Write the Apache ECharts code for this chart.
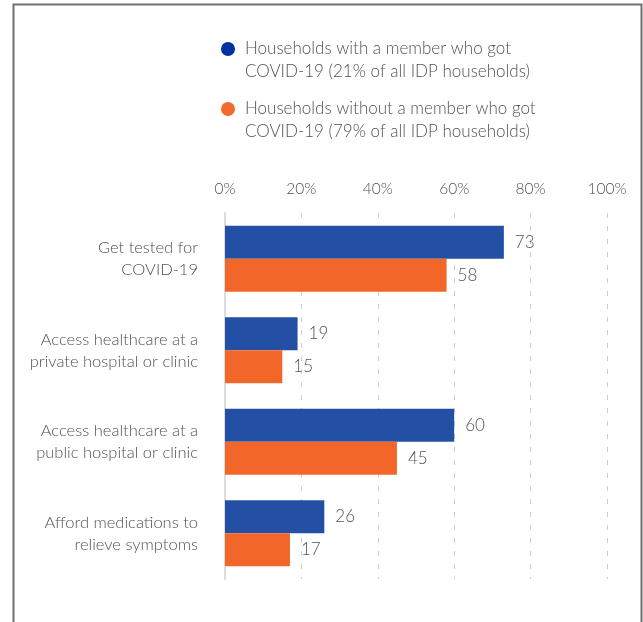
<!DOCTYPE html>
<html><head><meta charset="utf-8">
<script src="https://cdn.jsdelivr.net/npm/echarts@6/dist/echarts.min.js"></script>
<style>html,body{margin:0;padding:0;background:#fff}#c{width:643px;height:622px}</style>
</head><body><div id="c"></div>
<script>
const categories = ["Get tested for\nCOVID-19", "Access healthcare at a\nprivate hospital or clinic", "Access healthcare at a\npublic hospital or clinic", "Afford medications to\nrelieve symptoms"];
const withCovid = [73, 19, 60, 26];
const withoutCovid = [58, 15, 45, 17];
const seriesNames = ["Households with a member who got\nCOVID-19 (21% of all IDP households)", "Households without a member who got\nCOVID-19 (79% of all IDP households)"];
const FONT = 'Lato';
const TXT = '#525252';
const chart = echarts.init(document.getElementById('c'));
chart.setOption({
  animation: false,
  textStyle: {fontFamily: FONT},
  graphic: [{
    type: 'polyline',
    shape: {points: [[13.5, 622], [13.5, 4.5], [641.5, 4.5], [641.5, 622]]},
    style: {stroke: '#707070', lineWidth: 2, fill: null},
    silent: true
  }],
  legend: {
    orient: 'vertical', left: 216, top: 9.5,
    itemWidth: 14, itemHeight: 14, itemGap: -9,
    icon: 'circle',
    formatter: function (n) { return ' \n' + n; },
    textStyle: {color: TXT, fontSize: 17, lineHeight: 23, fontFamily: FONT, fontWeight: 300, padding: [0, 0, 0, 5]},
    data: [
      {name: seriesNames[0], itemStyle: {color: '#0033a0'}},
      {name: seriesNames[1], itemStyle: {color: '#f26b2d'}}
    ]
  },
  grid: {left: 225, right: 36, top: 213, bottom: 43, containLabel: false},
  xAxis: {
    type: 'value', position: 'top', min: 0, max: 100, interval: 20,
    axisLine: {show: false}, axisTick: {show: false},
    axisLabel: {formatter: '{value}%', color: TXT, fontSize: 15.5, margin: 16, fontFamily: FONT, fontWeight: 300},
    splitLine: {show: true, lineStyle: {color: '#cfcfcf', type: [5, 8], width: 1}}
  },
  yAxis: {
    type: 'category', inverse: true, data: categories,
    axisLine: {show: true, lineStyle: {color: '#dddddd', width: 2}},
    axisTick: {show: false},
    axisLabel: {color: TXT, fontSize: 16.5, lineHeight: 22, margin: 27, align: 'right', fontFamily: FONT, fontWeight: 300}
  },
  series: [
    {name: seriesNames[0], type: 'bar', data: withCovid, barGap: '0%', barCategoryGap: '28%',
     itemStyle: {color: '#2350a5'},
     label: {show: true, position: 'right', distance: 11, color: TXT, fontSize: 17, fontFamily: FONT, fontWeight: 300}},
    {name: seriesNames[1], type: 'bar', data: withoutCovid,
     itemStyle: {color: '#f26729'},
     label: {show: true, position: 'right', distance: 11, color: TXT, fontSize: 17, fontFamily: FONT, fontWeight: 300}}
  ]
});
</script></body></html>
